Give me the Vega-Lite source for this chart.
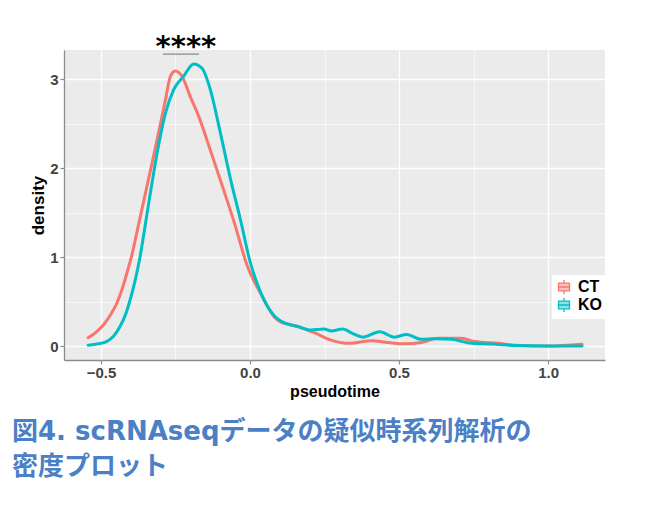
{
  "$schema": "https://vega.github.io/schema/vega-lite/v6.json",
  "width": 541,
  "height": 310,
  "autosize": {"type": "none"},
  "padding": {"left": 64, "top": 50, "right": 46, "bottom": 150},
  "background": "white",
  "config": {"view": {"fill": "#EBEBEB", "stroke": null}},
  "title": {
    "text": ["図4. scRNAseqデータの疑似時系列解析の", "密度プロット"],
    "orient": "bottom",
    "anchor": "start",
    "frame": "group",
    "dx": -52,
    "offset": 20,
    "font": "DejaVu Sans, Noto Sans CJK JP",
    "fontSize": 26,
    "fontWeight": "bold",
    "color": "#4b7fc6",
    "lineHeight": 35
  },
  "datasets": {
    "curves": [
      {"group": "CT", "x": -0.543, "y": 0.093},
      {"group": "CT", "x": -0.515, "y": 0.16},
      {"group": "CT", "x": -0.492, "y": 0.236},
      {"group": "CT", "x": -0.47, "y": 0.34},
      {"group": "CT", "x": -0.447, "y": 0.48},
      {"group": "CT", "x": -0.43, "y": 0.63},
      {"group": "CT", "x": -0.413, "y": 0.82},
      {"group": "CT", "x": -0.395, "y": 1.04},
      {"group": "CT", "x": -0.38, "y": 1.27},
      {"group": "CT", "x": -0.346, "y": 1.79},
      {"group": "CT", "x": -0.312, "y": 2.31},
      {"group": "CT", "x": -0.284, "y": 2.76},
      {"group": "CT", "x": -0.267, "y": 3.03},
      {"group": "CT", "x": -0.251, "y": 3.09},
      {"group": "CT", "x": -0.228, "y": 3.03},
      {"group": "CT", "x": -0.2, "y": 2.8},
      {"group": "CT", "x": -0.172, "y": 2.58},
      {"group": "CT", "x": -0.133, "y": 2.2},
      {"group": "CT", "x": -0.088, "y": 1.75},
      {"group": "CT", "x": -0.054, "y": 1.4},
      {"group": "CT", "x": -0.009, "y": 0.9},
      {"group": "CT", "x": 0.036, "y": 0.59},
      {"group": "CT", "x": 0.081, "y": 0.33},
      {"group": "CT", "x": 0.103, "y": 0.27},
      {"group": "CT", "x": 0.16, "y": 0.22},
      {"group": "CT", "x": 0.216, "y": 0.15},
      {"group": "CT", "x": 0.272, "y": 0.067},
      {"group": "CT", "x": 0.334, "y": 0.03},
      {"group": "CT", "x": 0.407, "y": 0.06},
      {"group": "CT", "x": 0.463, "y": 0.04},
      {"group": "CT", "x": 0.519, "y": 0.025},
      {"group": "CT", "x": 0.575, "y": 0.04},
      {"group": "CT", "x": 0.631, "y": 0.086},
      {"group": "CT", "x": 0.71, "y": 0.086},
      {"group": "CT", "x": 0.755, "y": 0.05},
      {"group": "CT", "x": 0.834, "y": 0.03},
      {"group": "CT", "x": 0.89, "y": 0.01},
      {"group": "CT", "x": 1.0, "y": 0.0},
      {"group": "CT", "x": 1.114, "y": 0.02},
      {"group": "KO", "x": -0.543, "y": 0.01},
      {"group": "KO", "x": -0.51, "y": 0.025},
      {"group": "KO", "x": -0.481, "y": 0.05},
      {"group": "KO", "x": -0.458, "y": 0.11},
      {"group": "KO", "x": -0.436, "y": 0.22},
      {"group": "KO", "x": -0.418, "y": 0.35},
      {"group": "KO", "x": -0.402, "y": 0.52},
      {"group": "KO", "x": -0.385, "y": 0.74},
      {"group": "KO", "x": -0.369, "y": 1.0},
      {"group": "KO", "x": -0.34, "y": 1.6},
      {"group": "KO", "x": -0.312, "y": 2.16},
      {"group": "KO", "x": -0.284, "y": 2.61},
      {"group": "KO", "x": -0.256, "y": 2.88},
      {"group": "KO", "x": -0.223, "y": 3.03},
      {"group": "KO", "x": -0.189, "y": 3.17},
      {"group": "KO", "x": -0.161, "y": 3.12},
      {"group": "KO", "x": -0.133, "y": 2.88},
      {"group": "KO", "x": -0.099, "y": 2.39},
      {"group": "KO", "x": -0.065, "y": 1.87},
      {"group": "KO", "x": -0.032, "y": 1.42},
      {"group": "KO", "x": 0.0, "y": 0.95},
      {"group": "KO", "x": 0.036, "y": 0.6},
      {"group": "KO", "x": 0.081, "y": 0.34},
      {"group": "KO", "x": 0.103, "y": 0.28},
      {"group": "KO", "x": 0.16, "y": 0.22},
      {"group": "KO", "x": 0.204, "y": 0.18},
      {"group": "KO", "x": 0.249, "y": 0.19},
      {"group": "KO", "x": 0.272, "y": 0.17},
      {"group": "KO", "x": 0.311, "y": 0.19},
      {"group": "KO", "x": 0.345, "y": 0.14},
      {"group": "KO", "x": 0.379, "y": 0.1},
      {"group": "KO", "x": 0.435, "y": 0.16},
      {"group": "KO", "x": 0.485, "y": 0.1},
      {"group": "KO", "x": 0.525, "y": 0.13},
      {"group": "KO", "x": 0.575, "y": 0.075},
      {"group": "KO", "x": 0.62, "y": 0.082},
      {"group": "KO", "x": 0.676, "y": 0.075},
      {"group": "KO", "x": 0.744, "y": 0.03},
      {"group": "KO", "x": 0.811, "y": 0.022},
      {"group": "KO", "x": 0.89, "y": 0.005},
      {"group": "KO", "x": 1.0, "y": 0.0},
      {"group": "KO", "x": 1.114, "y": 0.0}
    ],
    "bracket": [{"x1": -0.292, "x2": -0.171, "y": 3.28}],
    "signif": [{"x": -0.215, "y": 3.36, "label": "****"}]
  },
  "layer": [
    {
      "data": {"name": "curves"},
      "mark": {"type": "line", "strokeWidth": 3, "interpolate": "monotone", "strokeCap": "round"},
      "encoding": {
        "x": {
          "field": "x", "type": "quantitative",
          "scale": {"domain": [-0.624, 1.191], "nice": false, "zero": false},
          "axis": {
            "values": [-0.5, 0, 0.5, 1], "format": ".1f",
            "title": "pseudotime",
            "grid": true, "gridColor": "white", "gridWidth": 1.3,
            "domainColor": "#8c8c8c", "domainWidth": 1.3,
            "tickColor": "#8c8c8c", "tickSize": 4, "tickWidth": 1.2,
            "labelFont": "Liberation Sans", "labelFontWeight": "bold", "labelFontSize": 15, "labelColor": "#444444", "labelPadding": 1,
            "titleFont": "Liberation Sans", "titleFontWeight": "bold", "titleFontSize": 16, "titleColor": "black", "titlePadding": 3
          }
        },
        "y": {
          "field": "y", "type": "quantitative",
          "scale": {"domain": [-0.157, 3.326], "nice": false, "zero": false},
          "axis": {
            "values": [0, 1, 2, 3], "format": "d",
            "title": "density",
            "grid": true, "gridColor": "white", "gridWidth": 1.3,
            "domainColor": "#8c8c8c", "domainWidth": 1.3,
            "tickColor": "#8c8c8c", "tickSize": 4, "tickWidth": 1.2,
            "labelFont": "Liberation Sans", "labelFontWeight": "bold", "labelFontSize": 15, "labelColor": "#444444", "labelPadding": 2,
            "titleFont": "Liberation Sans", "titleFontWeight": "bold", "titleFontSize": 17, "titleColor": "black", "titlePadding": 2
          }
        },
        "color": {
          "field": "group", "type": "nominal",
          "scale": {"domain": ["CT", "KO"], "range": ["#F8766D", "#00BFC4"]},
          "legend": {
            "orient": "none", "legendX": 488, "legendY": 225,
            "title": null, "fillColor": "white", "padding": 4,
            "labelFont": "Liberation Sans", "labelFontWeight": "bold", "labelFontSize": 16, "labelColor": "black",
            "labelOffset": 6, "rowPadding": -2,
            "symbolType": "M-0.8,-0.55H0.8V0.55H-0.8Z M-0.8,0H0.8 M0,-0.55V-1 M0,0.55V1",
            "symbolSize": 190, "symbolStrokeWidth": 1.3, "symbolOpacity": 1,
            "encode": {"symbols": {"update": {"fill": {"scale": "color", "field": "value"}, "fillOpacity": {"value": 0.45}}}}
          }
        }
      }
    },
    {
      "data": {"name": "bracket"},
      "mark": {"type": "rule", "color": "#8c8c8c", "strokeWidth": 1.2},
      "encoding": {
        "x": {
          "field": "x1", "type": "quantitative",
          "axis": {"orient": "top", "values": [-0.25, 0.25, 0.75], "grid": true, "gridColor": "white", "gridWidth": 0.6, "labels": false, "ticks": false, "domain": false, "title": null}
        },
        "x2": {"field": "x2"},
        "y": {
          "field": "y", "type": "quantitative",
          "axis": {"orient": "right", "values": [0.5, 1.5, 2.5], "grid": true, "gridColor": "white", "gridWidth": 0.6, "labels": false, "ticks": false, "domain": false, "title": null}
        }
      }
    },
    {
      "data": {"name": "signif"},
      "mark": {"type": "text", "font": "DejaVu Sans", "fontWeight": "bold", "fontSize": 29, "color": "black", "baseline": "middle", "align": "center"},
      "encoding": {
        "x": {"field": "x", "type": "quantitative", "axis": null},
        "y": {"field": "y", "type": "quantitative", "axis": null},
        "text": {"field": "label"}
      }
    }
  ],
  "resolve": {"axis": {"x": "independent", "y": "independent"}}
}
